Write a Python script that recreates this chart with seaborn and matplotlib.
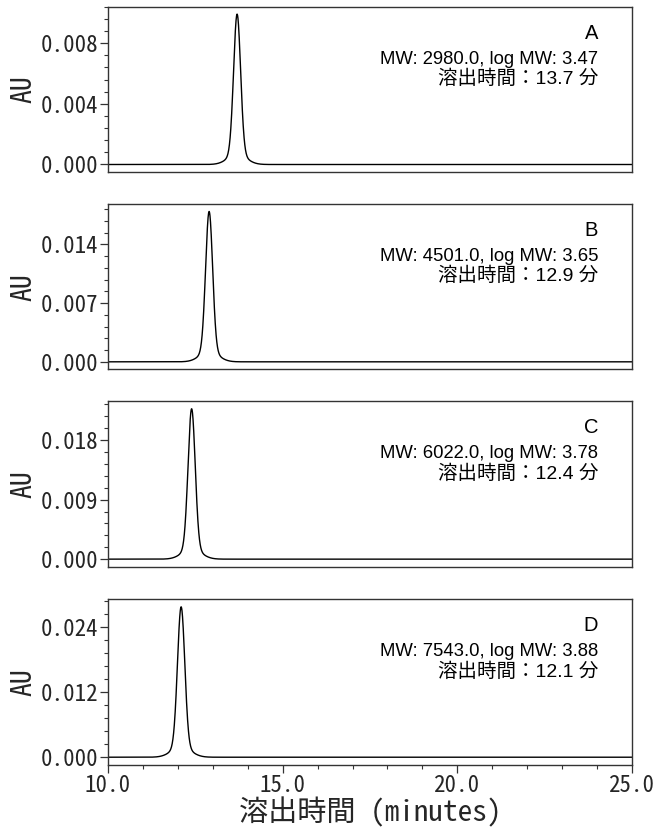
import numpy as np
import pandas as pd
import matplotlib
matplotlib.use("Agg")
import matplotlib.pyplot as plt
from matplotlib.ticker import MultipleLocator, FormatStrFormatter
import seaborn as sns

sns.set_theme(style="white")
plt.rcParams["font.family"] = ["Noto Sans Mono CJK JP", "Noto Sans CJK JP", "DejaVu Sans"]

# Samples and their peak parameters
labels = ["A", "B", "C", "D"]
mw = [2980.0, 4501.0, 6022.0, 7543.0]
log_mw = [3.47, 3.65, 3.78, 3.88]
retention = [13.7, 12.9, 12.4, 12.1]          # minutes
peak_height = [0.00992, 0.01793, 0.02274, 0.02766]  # AU
peak_sigma = [0.100, 0.100, 0.102, 0.104]     # minutes
y_major = [0.004, 0.007, 0.009, 0.012]

x_ticks = [10.0, 15.0, 20.0, 25.0]

t = np.linspace(10.0, 25.0, 3001)


def trace(rt, h, s):
    core = np.exp(-0.5 * ((t - rt) / s) ** 2)
    tail = np.exp(-0.5 * ((t - rt) / (2.6 * s)) ** 2)
    return h * (0.93 * core + 0.07 * tail)


fig = plt.figure(figsize=(6.55, 8.27), dpi=100)

left, width = 0.1644, 0.801
bottoms = [0.792, 0.5534, 0.3148, 0.0753]
height = 0.2

mono = ["Noto Sans Mono CJK JP", "Noto Sans CJK JP", "DejaVu Sans"]
sans = ["Liberation Sans", "Noto Sans CJK JP"]

for i, lab in enumerate(labels):
    ax = fig.add_axes([left, bottoms[i], width, height])
    df = pd.DataFrame({"time": t, "AU": trace(retention[i], peak_height[i], peak_sigma[i])})
    sns.lineplot(data=df, x="time", y="AU", ax=ax, color="black", linewidth=1.0)

    ax.set_xlim(10.0, 25.0)
    ax.set_ylim(-0.05 * peak_height[i], 1.05 * peak_height[i])

    ax.yaxis.set_major_locator(MultipleLocator(y_major[i]))
    ax.yaxis.set_minor_locator(MultipleLocator(y_major[i] / 5))
    ax.yaxis.set_major_formatter(FormatStrFormatter("%.3f"))
    ax.tick_params(axis="y", which="major", direction="out", length=6, width=0.9,
                   color="#333333", left=True, labelsize=16.5, pad=1)
    ax.tick_params(axis="y", which="minor", direction="out", length=3, width=0.8,
                   color="#333333", left=True)
    for tl in ax.get_yticklabels():
        tl.set_family(mono)

    ax.set_ylabel("AU", fontsize=20, family=mono, labelpad=2)

    for sp in ax.spines.values():
        sp.set_color("#333333")
        sp.set_linewidth(1.0)

    if i == len(labels) - 1:
        ax.set_xticks(x_ticks)
        ax.xaxis.set_major_formatter(FormatStrFormatter("%.1f"))
        ax.xaxis.set_minor_locator(MultipleLocator(1.0))
        ax.tick_params(axis="x", which="major", direction="out", length=6, width=0.9,
                       color="#333333", bottom=True, labelsize=16.5, pad=1)
        ax.tick_params(axis="x", which="minor", direction="out", length=3, width=0.8,
                       color="#333333", bottom=True)
        for tl in ax.get_xticklabels():
            tl.set_family(mono)
        ax.set_xlabel("溶出時間 (minutes)", fontsize=21, family=mono, labelpad=0)
    else:
        ax.set_xticks([])
        ax.set_xlabel("")

    ax.text(0.935, 0.807, lab, transform=ax.transAxes, ha="right", va="baseline",
            fontsize=14.5, family=sans, color="black")
    ax.text(0.935, 0.655, f"MW: {mw[i]:.1f}, log MW: {log_mw[i]:.2f}",
            transform=ax.transAxes, ha="right", va="baseline",
            fontsize=13.3, family=sans, color="black")
    ax.text(0.935, 0.532, f"溶出時間：{retention[i]:.1f} 分",
            transform=ax.transAxes, ha="right", va="baseline",
            fontsize=14, family=sans, color="black")

fig.savefig("out.png", dpi=100)
